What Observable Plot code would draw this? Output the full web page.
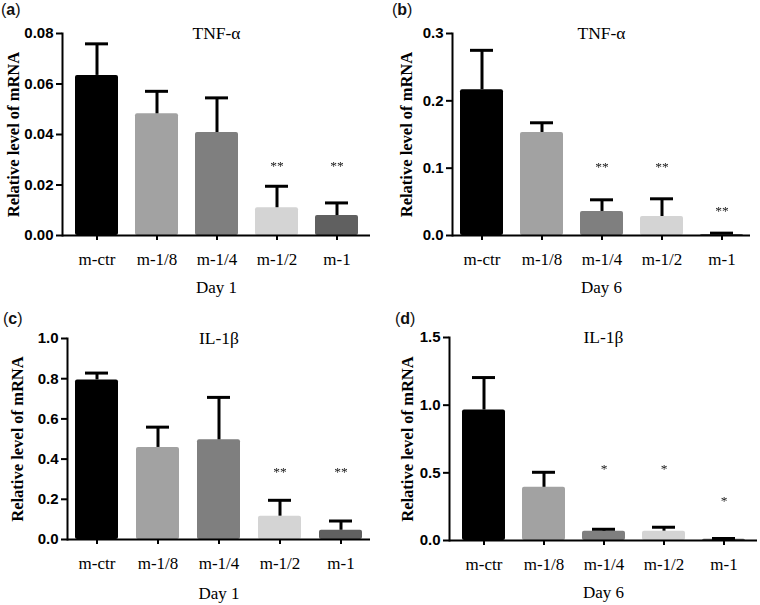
<!DOCTYPE html>
<html>
<head>
<meta charset="utf-8">
<script src="https://cdn.jsdelivr.net/npm/d3@7"></script>
<script src="https://cdn.jsdelivr.net/npm/@observablehq/plot@0.6"></script>
<style>
  body { margin: 0; background: white; }
  #root { position: relative; width: 760px; height: 605px; background: white; overflow: hidden; }
  .panel { position: absolute; }
  .tag { position: absolute; font-family: "Liberation Sans", Arial, sans-serif; font-size: 16px; line-height: 16px; color: #111; }
  .tag b { font-weight: bold; }
  .stars { opacity: 0.999; will-change: transform; }
</style>
</head>
<body>
<div id="root"></div>
<script>
// ---- data ----
const categories = ["m-ctr", "m-1/8", "m-1/4", "m-1/2", "m-1"];
const barColors = ["#000000", "#a2a2a2", "#7f7f7f", "#d4d4d4", "#606060"];

const tnfDay1 = [0.0634, 0.0482, 0.0408, 0.0110, 0.0079];
const tnfDay1Err = [0.0125, 0.0089, 0.0137, 0.0085, 0.0050];
const tnfDay1Sig = ["", "", "", "**", "**"];
const tnfDay1SigY = [null, null, null, 0.0275, 0.0275];
const tnfDay1Ticks = [0, 0.02, 0.04, 0.06, 0.08];

const tnfDay6 = [0.2165, 0.153, 0.0357, 0.0282, 0.0015];
const tnfDay6Err = [0.0585, 0.0144, 0.0173, 0.0263, 0.0020];
const tnfDay6Sig = ["", "", "**", "**", "**"];
const tnfDay6SigY = [null, null, 0.1015, 0.1015, 0.037];
const tnfDay6Ticks = [0, 0.1, 0.2, 0.3];

const ilDay1 = [0.794, 0.458, 0.496, 0.116, 0.046];
const ilDay1Err = [0.034, 0.101, 0.211, 0.079, 0.046];
const ilDay1Sig = ["", "", "", "**", "**"];
const ilDay1SigY = [null, null, null, 0.335, 0.335];
const ilDay1Ticks = [0, 0.2, 0.4, 0.6, 0.8, 1.0];

const ilDay6 = [0.964, 0.393, 0.069, 0.069, 0.010];
const ilDay6Err = [0.240, 0.111, 0.014, 0.029, 0.005];
const ilDay6Sig = ["", "", "*", "*", "*"];
const ilDay6SigY = [null, null, 0.528, 0.528, 0.295];
const ilDay6Ticks = [0, 0.5, 1.0, 1.5];

const yLabel = "Relative level of mRNA";
const serif = "'Liberation Serif', 'Times New Roman', serif";
const sans = "'Liberation Sans', Arial, sans-serif";

function panel(o) {
  const data = categories.map((c, i) => ({
    c, v: o.values[i], e: o.values[i] + o.errs[i], s: o.sig[i], sy: o.sigY[i], fill: barColors[i]
  }));
  const top = o.ticks[o.ticks.length - 1];
  return Plot.plot({
    width: 380, height: o.height,
    marginTop: o.mt, marginBottom: o.height - o.base, marginLeft: o.ml, marginRight: o.mr,
    x: {domain: categories, paddingInner: 0.29, paddingOuter: o.po, label: null},
    y: {domain: [0, top], ticks: o.ticks, tickFormat: o.fmt, label: null},
    color: {type: "identity"},
    style: {background: "white", color: "black", overflow: "visible"},
    marks: [
      Plot.barY(data, {x: "c", y: "v", fill: "fill", rx: 2}),
      Plot.ruleX(data, {x: "c", y1: "v", y2: "e", strokeWidth: 3, stroke: "black"}),
      Plot.tickY(data, {x: "c", y: "e", strokeWidth: 3, stroke: "black", insetLeft: 10, insetRight: 10}),
      Plot.text(data.filter(d => d.s), {x: "c", y: "sy", text: "s", fontSize: 13.5, fontFamily: serif, fill: "#111", fillOpacity: 0.99, className: "stars"}),
      Plot.ruleY([0], {strokeWidth: 2, stroke: "black"}),
      Plot.frame({anchor: "left", strokeWidth: 2, stroke: "black"}),
      Plot.axisY({ticks: o.ticks, tickFormat: o.fmt, tickSize: 6, tickPadding: 3, fontSize: 15, fontWeight: "bold", fontFamily: sans, strokeWidth: 2, label: null}),
      Plot.axisX({tickSize: 5, tickPadding: 12, fontSize: 17, fontFamily: serif, strokeWidth: 2, label: null}),
      Plot.text([yLabel], {frameAnchor: "left", rotate: -90, dx: o.ldx, textAnchor: "middle", lineAnchor: "middle", fontSize: 16.5, fontWeight: "bold", fontFamily: serif}),
      Plot.text([o.day], {frameAnchor: "bottom", dy: o.ddy, lineAnchor: "middle", fontSize: 17, fontFamily: serif}),
      Plot.text([o.title], {frameAnchor: "top", lineAnchor: "middle", fontSize: 17.5, fontFamily: serif})
    ]
  });
}

const root = document.getElementById("root");
function place(el, left, topPx) {
  const d = document.createElement("div");
  d.className = "panel";
  d.style.left = left + "px";
  d.style.top = topPx + "px";
  d.appendChild(el);
  root.appendChild(d);
}
function tag(letter, left, topPx) {
  const d = document.createElement("div");
  d.className = "tag";
  d.style.left = left + "px";
  d.style.top = topPx + "px";
  d.innerHTML = "(<b>" + letter + "</b>)";
  root.appendChild(d);
}

place(panel({values: tnfDay1, errs: tnfDay1Err, sig: tnfDay1Sig, sigY: tnfDay1SigY, ticks: tnfDay1Ticks,
  fmt: d3.format(".2f"), title: "TNF-α", day: "Day 1", height: 300, mt: 33, base: 235, ml: 62, mr: 10, po: 0.17, ldx: -49, ddy: 52}), 0, 0);
place(panel({values: tnfDay6, errs: tnfDay6Err, sig: tnfDay6Sig, sigY: tnfDay6SigY, ticks: tnfDay6Ticks,
  fmt: d3.format(".1f"), title: "TNF-α", day: "Day 6", height: 300, mt: 33, base: 235, ml: 72, mr: 10, po: 0.12, ldx: -46, ddy: 52}), 380, 0);
place(panel({values: ilDay1, errs: ilDay1Err, sig: ilDay1Sig, sigY: ilDay1SigY, ticks: ilDay1Ticks,
  fmt: d3.format(".1f"), title: "IL-1β", day: "Day 1", height: 305, mt: 38, base: 239, ml: 67, mr: 10, po: 0.12, ldx: -49.5, ddy: 54}), 0, 300);
place(panel({values: ilDay6, errs: ilDay6Err, sig: ilDay6Sig, sigY: ilDay6SigY, ticks: ilDay6Ticks,
  fmt: d3.format(".1f"), title: "IL-1β", day: "Day 6", height: 305, mt: 37, base: 240, ml: 69, mr: 3, po: 0.17, ldx: -41.5, ddy: 52}), 380, 300);

tag("a", 1, 2);
tag("b", 392, 2);
tag("c", 3, 311);
tag("d", 395, 311);
</script>
</body>
</html>
